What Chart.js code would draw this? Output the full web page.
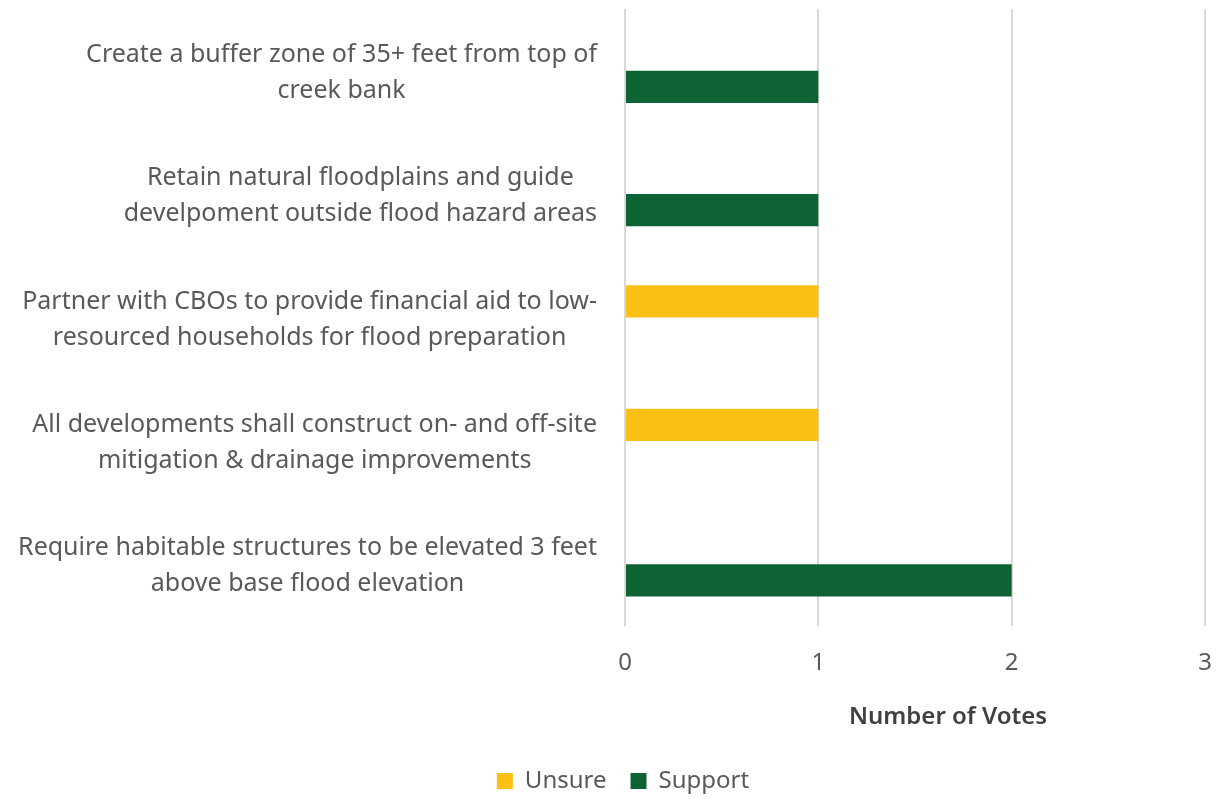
<!DOCTYPE html>
<html>
<head>
<meta charset="utf-8">
<script src="https://cdn.jsdelivr.net/npm/chart.js@4.4.1/dist/chart.umd.min.js"></script>
<style>
  html, body { margin: 0; padding: 0; background: #fff; }
  #wrap { width: 1223px; height: 799px; position: relative; }
</style>
</head>
<body>
<div id="wrap"><canvas id="chart"></canvas></div>
<script>
// chart data
const categories = [
    ['Create a buffer zone of 35+ feet from top of', 'creek bank'],
    ['Retain natural floodplains and guide', 'develpoment outside flood hazard areas'],
    ['Partner with CBOs to provide financial aid to low-', 'resourced households for flood preparation'],
    ['All developments shall construct on- and off-site', 'mitigation & drainage improvements'],
    ['Require habitable structures to be elevated 3 feet', 'above base flood elevation']
];
const seriesNames = ['Unsure', 'Support'];
const unsureVotes = [0, 0, 1, 1, 0];
const supportVotes = [1, 1, 0, 0, 2];
const xTicks = [0, 1, 2, 3];
const axisTitle = 'Number of Votes';

const FONT = '"Noto Sans", "Open Sans", sans-serif';
const labelColor = '#595959';

// draws the wrapped category labels, each label centred on itself (Excel style)
const categoryLabels = {
    id: 'categoryLabels',
    afterDraw(chart) {
        const ctx = chart.ctx;
        const yScale = chart.scales.y;
        const right = chart.chartArea.left - 28;
        ctx.save();
        ctx.font = '25px ' + FONT;
        ctx.fillStyle = labelColor;
        ctx.textAlign = 'center';
        ctx.textBaseline = 'middle';
        categories.forEach((lines, i) => {
            const w = Math.max(...lines.map(l => ctx.measureText(l).width));
            const cx = right - w / 2;
            const cy = yScale.getPixelForTick(i) + 2;
            lines.forEach((line, j) => {
                ctx.fillText(line, cx, cy + (j - (lines.length - 1) / 2) * 36);
            });
        });
        // axis title, sits a bit right of centre like the original
        ctx.font = '600 24px ' + FONT;
        ctx.fillStyle = '#404040';
        ctx.fillText(axisTitle, chart.chartArea.left + 323, chart.chartArea.bottom + 91);
        ctx.restore();
    }
};

new Chart(document.getElementById('chart'), {
    type: 'bar',
    data: {
        labels: categories,
        datasets: [
            { label: seriesNames[0], data: unsureVotes, backgroundColor: '#FBC016' },
            { label: seriesNames[1], data: supportVotes, backgroundColor: '#0E6334' }
        ]
    },
    options: {
        indexAxis: 'y',
        responsive: true,
        maintainAspectRatio: false,
        animation: false,
        categoryPercentage: 0.523,
        barPercentage: 1,
        layout: { padding: { top: 9, right: 18, bottom: -4, left: 41 } },
        scales: {
            x: {
                min: 0,
                max: 3,
                afterBuildTicks: s => { s.ticks = xTicks.map(v => ({ value: v })); },
                afterFit: s => { s.height = 119; s.paddingRight = 0; s.paddingLeft = 0; },
                grid: { color: '#D9D9D9', lineWidth: 2, drawTicks: false },
                border: { display: false },
                ticks: { color: labelColor, padding: 23, font: { family: FONT, size: 24 } }
            },
            y: {
                afterFit: s => { s.width = 584; },
                grid: { display: false },
                border: { display: false },
                ticks: { display: false }
            }
        },
        plugins: {
            legend: {
                position: 'bottom',
                labels: {
                    color: labelColor,
                    boxWidth: 16,
                    boxHeight: 16,
                    padding: 24,
                    font: { family: FONT, size: 24 }
                }
            },
            tooltip: { enabled: false }
        }
    },
    plugins: [categoryLabels]
});
</script>
</body>
</html>
